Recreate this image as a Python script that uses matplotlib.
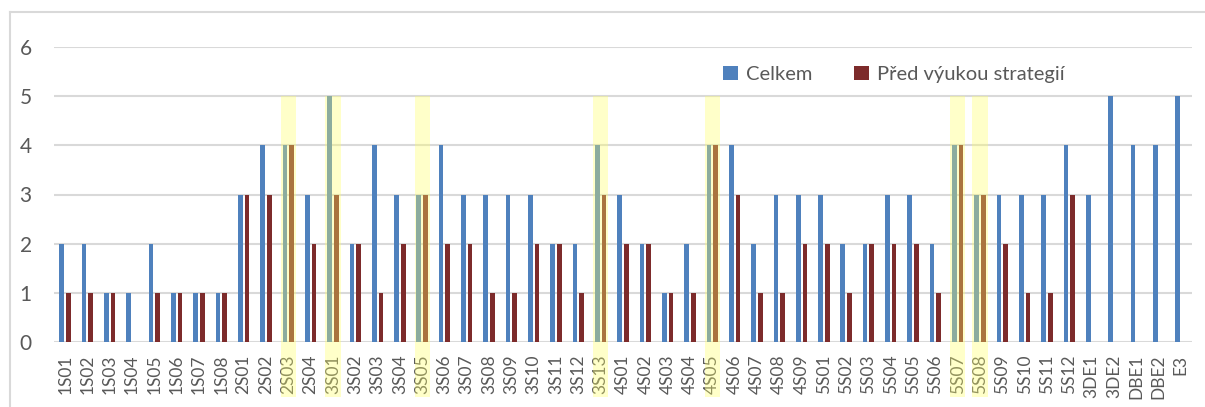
import numpy as np
import matplotlib
matplotlib.use("Agg")
import matplotlib.pyplot as plt
from matplotlib.patches import Rectangle
from matplotlib.lines import Line2D

categories = [
    "1S01", "1S02", "1S03", "1S04", "1S05", "1S06", "1S07", "1S08",
    "2S01", "2S02", "2S03", "2S04",
    "3S01", "3S02", "3S03", "3S04", "3S05", "3S06", "3S07", "3S08",
    "3S09", "3S10", "3S11", "3S12", "3S13",
    "4S01", "4S02", "4S03", "4S04", "4S05", "4S06", "4S07", "4S08", "4S09",
    "5S01", "5S02", "5S03", "5S04", "5S05", "5S06", "5S07", "5S08",
    "5S09", "5S10", "5S11", "5S12",
    "3DE1", "3DE2", "DBE1", "DBE2", "E3",
]
celkem = [
    2, 2, 1, 1, 2, 1, 1, 1,
    3, 4, 4, 3,
    5, 2, 4, 3, 3, 4, 3, 3,
    3, 3, 2, 2, 4,
    3, 2, 1, 2, 4, 4, 2, 3, 3,
    3, 2, 2, 3, 3, 2, 4, 3,
    3, 3, 3, 4,
    3, 5, 4, 4, 5,
]
pred_vyukou = [
    1, 1, 1, 0, 1, 1, 1, 1,
    3, 3, 4, 2,
    3, 2, 1, 2, 3, 2, 2, 1,
    1, 2, 2, 1, 3,
    2, 2, 1, 1, 4, 3, 1, 1, 2,
    2, 1, 2, 2, 2, 1, 4, 3,
    2, 1, 1, 3,
    0, 0, 0, 0, 0,
]
highlighted = ["2S03", "3S01", "3S05", "3S13", "4S05", "5S07", "5S08"]

BLUE = "#4f81bd"
RED = "#7d2b2b"
TXT = "#595959"
GRID = "#d9d9d9"

plt.rcParams["font.family"] = ["Lato", "DejaVu Sans"]

fig = plt.figure(figsize=(12.05, 4.07), dpi=100)
ax = fig.add_axes([54 / 1205, 1 - 342 / 407, (1192 - 54) / 1205, (342 - 47) / 407])

x = np.arange(len(categories))
w = 0.21
ax.bar(x - 0.15, celkem, w, color=BLUE, label="Celkem", zorder=3)
ax.bar(x + 0.15, pred_vyukou, w, color=RED, label="Před výukou strategií", zorder=3)

ax.set_xlim(-0.5, len(categories) - 0.5)
ax.set_ylim(0, 6)
ax.set_yticks(range(7))
ax.yaxis.grid(True, color=GRID, linewidth=1.5, zorder=0)
ax.set_axisbelow(True)
for s in ax.spines.values():
    s.set_visible(False)

ax.set_xticks(x)
ax.set_xticklabels(categories, rotation=90, fontsize=12.5, color=TXT)
ax.tick_params(axis="x", length=0, pad=9)
ax.tick_params(axis="y", length=0, pad=16, labelsize=15, labelcolor=TXT)

# yellow highlight over chosen categories (drawn on top, semi transparent)
for name in highlighted:
    i = categories.index(name)
    ax.add_patch(Rectangle((i - 0.34, -1.12), 0.68, 5 + 1.12, facecolor="#ffff66",
                           alpha=0.35, edgecolor="none", zorder=5, clip_on=False))

ax.legend(loc="upper left", bbox_to_anchor=(0.572, 0.997), ncol=2, frameon=False,
          fontsize=14.5, labelcolor=TXT, handlelength=0.72, handleheight=0.72,
          handletextpad=0.4, columnspacing=2.1)

# light frame of the chart area (top and left only visible)
fig.add_artist(Line2D([10 / 1205, 10 / 1205], [0, 1 - 12 / 407], color=GRID, lw=1.5))
fig.add_artist(Line2D([10 / 1205, 1], [1 - 12 / 407, 1 - 12 / 407], color=GRID, lw=1.5))

fig.savefig("out.png", dpi=100)
